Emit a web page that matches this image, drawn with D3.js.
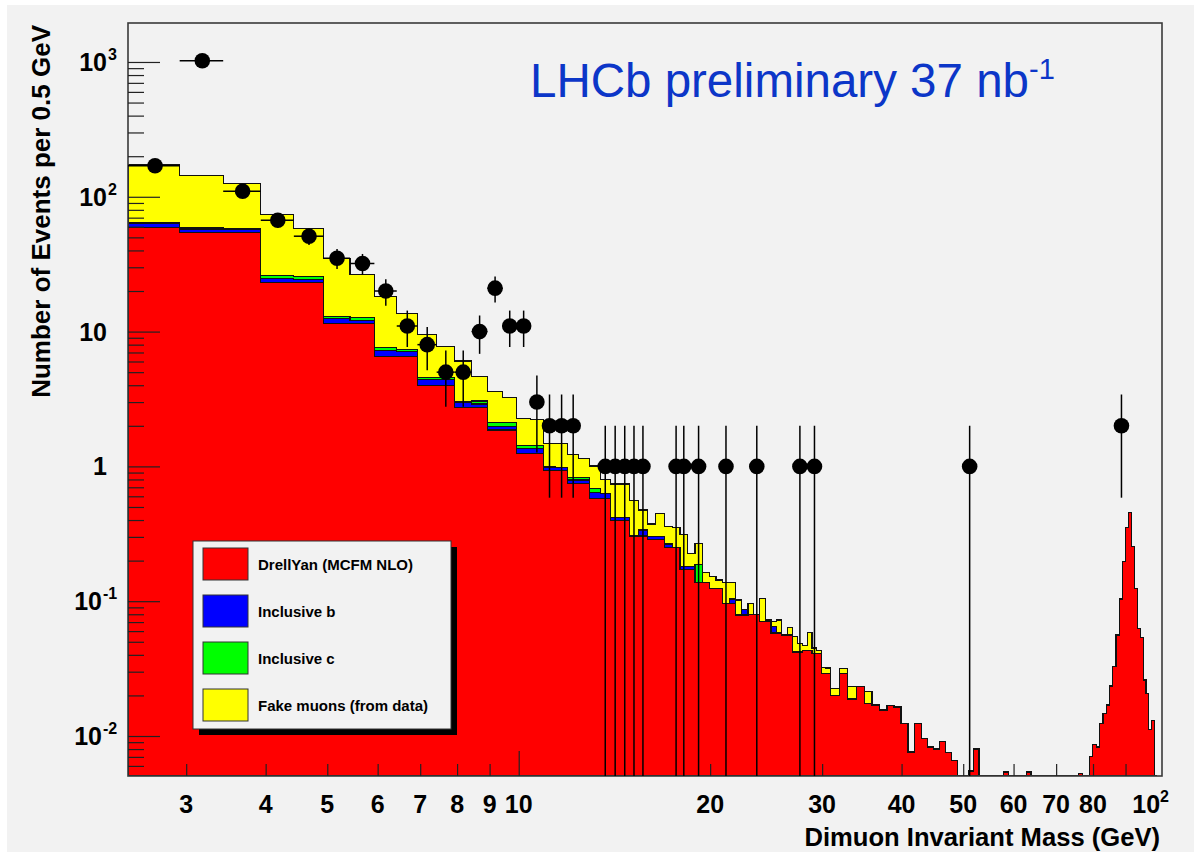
<!DOCTYPE html>
<html>
<head>
<meta charset="utf-8">
<script src="https://cdn.jsdelivr.net/npm/d3@7/dist/d3.min.js"></script>
<style>
  body { margin: 0; background: #f2f2f2; }
  svg { display: block; }
  text { font-family: "Liberation Sans", Arial, Helvetica, sans-serif; }
</style>
</head>
<body>
<svg id="chart" width="1194" height="852"></svg>
<script>
// 0.5 GeV bins from 2.43 to 30.93, then 1 GeV bins up to 100.93
const binEdges = [
  ...d3.range(58).map(i => +(2.43 + 0.5 * i).toFixed(2)),
  ...d3.range(1, 71).map(i => +(30.93 + i).toFixed(2))
];

// stacked MC (events per bin); missing entries = empty bins
const drellYan = [
  59.2, 54.5, 54.5, 23.0, 23.0, 11.5, 11.5, 6.5, 6.5, 4.0, 4.0, 2.72, 2.72, 1.86, 1.86,
  1.25, 1.25, 0.93, 0.93, 0.75, 0.75, 0.58, 0.58, 0.396, 0.396, 0.305, 0.305, 0.288, 0.288,
  0.251, 0.251, 0.173, 0.173, 0.137, 0.137, 0.1246, 0.1246, 0.0965, 0.0965, 0.079, 0.079,
  0.080, 0.080, 0.0705, 0.0705, 0.058, 0.058, 0.0561, 0.0561, 0.042, 0.042, 0.043, 0.043,
  0.041, 0.041, 0.029, 0.029,
  // 1 GeV bins from 30.93
  0.0201, 0.029, 0.0188, 0.0233, 0.0175, 0.0170, 0.0156, 0.0169, 0.0164, 0.0123, 0.0076,
  0.0124, 0.0096, 0.0083, 0.0080, 0.0091, 0.0075, 0.0066, 0, 0, 0.0055, 0.0080,
  0, 0, 0, 0, 0, 0.0054, 0, 0, 0, 0.0051, 0.0054,
  0, 0, 0, 0, 0, 0, 0, 0, 0, 0, 0, 0, 0.0053, 0, 0,
  0.0070, 0.0086, 0.0083, 0.0123, 0.0147, 0.0170, 0.0235, 0.0327, 0.0561, 0.1038, 0.198,
  0.353, 0.453, 0.254, 0.1246, 0.0630, 0.0540, 0.0260, 0.0207, 0.0111, 0.0131, 0
];
const inclB = [
  4.0, 3.0, 2.3, 1.9, 1.5, 1.0, 0.6, 0.7, 0.6, 0.43, 0.43, 0.24, 0.18, 0.13, 0.13, 0.10,
  0.10, 0.055, 0.055, 0.042, 0.042, 0.06, 0.05, 0.023, 0.023, 0, 0.032, 0.012, 0.012, 0.015,
  0, 0.008, 0.008, 0, 0, 0, 0, 0, 0.0075, 0, 0.0072, 0, 0, 0, 0, 0.007
];
const inclC = [
  1.3, 1.2, 1.3, 1.3, 1.0, 0.5, 0.7, 0.4, 0.3, 0.15, 0.12, 0.06, 0.16, 0.13, 0.13, 0.07,
  0.07, 0.01, 0, 0.04, 0.04, 0.05, 0, 0, 0, 0, 0, 0, 0, 0, 0, 0, 0, 0.049
];
const fakeMu = [
  107.5, 86, 67, 48, 33, 22, 13.8, 10.6, 6.3, 4.97, 3.18, 3.03, 1.57, 1.46, 1.14, 0.85,
  0.81, 0.49, 0.50, 0.40, 0.316, 0.317, 0.173, 0.32, 0.32, 0.252, 0.138, 0.074, 0.149,
  0.091, 0.10, 0.1325, 0.0456, 0.083, 0.0267, 0.0274, 0.019, 0.0407, 0.033, 0.023, 0,
  0.0165, 0, 0.0345, 0.002, 0.0055, 0.0145, 0, 0.008, 0.0126, 0.0067, 0.004, 0.0154,
  0.004, 0.002, 0.0033, 0.003,
  0.0024, 0.0027, 0.0045, 0, 0.0039
];

// data (bin centres, counts)
const dataMass = [2.68, 3.18, 3.68, 4.18, 4.68, 5.18, 5.68, 6.18, 6.68, 7.18, 7.68, 8.18,
  8.68, 9.18, 9.68, 10.18, 10.68, 11.18, 11.68, 12.18, 13.68, 14.18, 14.68, 15.18, 15.68,
  17.68, 18.18, 19.18, 21.18, 23.68, 27.68, 29.18, 51.18, 88.68];
const dataCount = [170, 1020, 110, 67, 51, 35, 32, 20, 11, 8, 5, 5, 10, 21, 11, 11, 3, 2,
  2, 2, 1, 1, 1, 1, 1, 1, 1, 1, 1, 1, 1, 1, 1, 2];

const legendLabels = ["DrellYan (MCFM NLO)", "Inclusive b", "Inclusive c", "Fake muons (from data)"];
const layerColors = ["#ff0000", "#0000ff", "#00ff00", "#ffff00"];

const xTickLabels = [3, 4, 5, 6, 7, 8, 9, 10, 20, 30, 40, 50, 60, 70, 80];
const xMinorTicks = [3, 4, 5, 6, 7, 8, 9, 20, 30, 40, 50, 60, 70, 80, 90];
const yDecades = [0.01, 0.1, 1, 10, 100, 1000];
const yLabelExp = ["-2", "-1", "", "", "2", "3"];

const X0 = 128, X1 = 1162, Y0 = 23, Y1 = 776;
const svg = d3.select("#chart");

svg.append("rect").attr("width", 1194).attr("height", 852).attr("fill", "#f2f2f2");
svg.append("rect").attr("width", 7).attr("height", 852).attr("fill", "#ffffff");
svg.append("rect").attr("width", 1194).attr("height", 5).attr("fill", "#ffffff");

const x = d3.scaleLog().domain([2.43, 102.7]).range([X0, X1]);
const y = d3.scaleLog().domain([0.00505, 1946]).range([Y1, Y0]);
const yc = v => (v > y.domain()[0] ? y(v) : Y1);

svg.append("clipPath").attr("id", "frame")
  .append("rect").attr("x", X0).attr("y", Y0).attr("width", X1 - X0).attr("height", Y1 - Y0);

// cumulative stack
const nBins = binEdges.length - 1;
const stacks = [];
let run = d3.range(nBins).map(() => 0);
[drellYan, inclB, inclC, fakeMu].forEach(arr => {
  run = run.map((r, i) => r + (arr[i] || 0));
  stacks.push(run);
});

function stepPath(vals) {
  const p = d3.path();
  p.moveTo(x(binEdges[0]), Y1);
  vals.forEach((v, i) => {
    p.lineTo(x(binEdges[i]), yc(v));
    p.lineTo(x(binEdges[i + 1]), yc(v));
  });
  p.lineTo(x(binEdges[nBins]), Y1);
  p.closePath();
  return p.toString();
}

const plot = svg.append("g").attr("clip-path", "url(#frame)");
for (let k = stacks.length - 1; k >= 0; k--) {
  plot.append("path")
    .attr("d", stepPath(stacks[k]))
    .attr("fill", layerColors[k])
    .attr("stroke", "#111")
    .attr("stroke-width", 1.2)
    .attr("shape-rendering", "crispEdges");
}

// frame
svg.append("rect")
  .attr("x", X0).attr("y", Y0).attr("width", X1 - X0).attr("height", Y1 - Y0)
  .attr("fill", "none").attr("stroke", "#3a3a3a").attr("stroke-width", 1.6);

// x ticks
const xAxisMinor = d3.axisBottom(x).tickValues(xMinorTicks).tickSize(-12).tickFormat("");
const xAxisMajor = d3.axisBottom(x).tickValues([10]).tickSize(-25).tickFormat("");
[xAxisMinor, xAxisMajor].forEach(ax => {
  const g = svg.append("g").attr("transform", `translate(0,${Y1})`).call(ax);
  g.select(".domain").remove();
  g.selectAll("line").attr("stroke", "#222").attr("stroke-width", 1.2);
});

// y ticks
const yMinor = [];
d3.range(-3, 4).forEach(e => d3.range(2, 10).forEach(m => {
  const v = m * Math.pow(10, e);
  if (v > y.domain()[0] && v < y.domain()[1]) yMinor.push(v);
}));
const yAxisMinor = d3.axisLeft(y).tickValues(yMinor).tickSize(-16).tickFormat("");
const yAxisMajor = d3.axisLeft(y).tickValues(yDecades).tickSize(-32).tickFormat("");
[yAxisMinor, yAxisMajor].forEach(ax => {
  const g = svg.append("g").attr("transform", `translate(${X0},0)`).call(ax);
  g.select(".domain").remove();
  g.selectAll("line").attr("stroke", "#222").attr("stroke-width", 1.2);
});

// x tick labels
svg.append("g").selectAll("text").data(xTickLabels).join("text")
  .attr("x", d => x(d)).attr("y", 813)
  .attr("text-anchor", "middle")
  .attr("font-size", 25).attr("font-weight", "bold").attr("fill", "#000")
  .text(d => d);
const lab100 = svg.append("text")
  .attr("x", x(100) - 4).attr("y", 813).attr("text-anchor", "middle")
  .attr("font-size", 25).attr("font-weight", "bold");
lab100.append("tspan").text("10");
lab100.append("tspan").attr("dy", -11).attr("font-size", 16).text("2");

// y tick labels
yDecades.forEach((v, i) => {
  const exp = yLabelExp[i];
  const base = exp === "" ? String(v) : "10";
  const right = exp.startsWith("-") ? 102 : 107;
  svg.append("text")
    .attr("x", right).attr("y", y(v) + 9)
    .attr("text-anchor", "end")
    .attr("font-size", 25).attr("font-weight", "bold")
    .text(base);
  if (exp) {
    svg.append("text")
      .attr("x", right + 1).attr("y", y(v) - 2)
      .attr("font-size", 16).attr("font-weight", "bold")
      .text(exp);
  }
});

// axis titles
svg.append("text")
  .attr("transform", `translate(50,${Y0 + 2}) rotate(-90)`)
  .attr("text-anchor", "end")
  .attr("font-size", 26).attr("font-weight", "bold")
  .text("Number of Events per 0.5 GeV");
svg.append("text")
  .attr("x", 1160).attr("y", 846)
  .attr("text-anchor", "end")
  .attr("font-size", 25.6).attr("font-weight", "bold")
  .text("Dimuon Invariant Mass (GeV)");

// data points
const pts = svg.append("g").attr("clip-path", "url(#frame)");
dataMass.forEach((m, i) => {
  const n = dataCount[i], e = Math.sqrt(n);
  pts.append("line")
    .attr("x1", x(m)).attr("x2", x(m))
    .attr("y1", yc(n - e)).attr("y2", y(n + e))
    .attr("stroke", "#000").attr("stroke-width", 1.5);
  pts.append("line")
    .attr("x1", x(m - 0.25)).attr("x2", x(m + 0.25))
    .attr("y1", y(n)).attr("y2", y(n))
    .attr("stroke", "#000").attr("stroke-width", 1.5);
  pts.append("circle")
    .attr("cx", x(m)).attr("cy", y(n)).attr("r", 7.8)
    .attr("fill", "#000");
});

// legend
const lg = svg.append("g");
lg.append("rect").attr("x", 199).attr("y", 547).attr("width", 258).attr("height", 188).attr("fill", "#000");
lg.append("rect").attr("x", 193).attr("y", 541).attr("width", 258).attr("height", 188)
  .attr("fill", "#f2f2f2").attr("stroke", "#333").attr("stroke-width", 1);
legendLabels.forEach((t, i) => {
  const top = 548 + i * 47;
  lg.append("rect").attr("x", 203).attr("y", top).attr("width", 45).attr("height", 32)
    .attr("fill", layerColors[i]).attr("stroke", "#333").attr("stroke-width", 1);
  lg.append("text").attr("x", 258).attr("y", top + 21.5)
    .attr("font-size", 15).attr("font-weight", "bold").text(t);
});

// LHCb label
const lhcb = svg.append("text").attr("x", 530).attr("y", 97)
  .attr("font-size", 47.5).attr("fill", "#0c36c8");
lhcb.append("tspan").text("LHCb preliminary 37 nb");
lhcb.append("tspan").attr("dy", -18).attr("font-size", 29).text("-1");
</script>
</body>
</html>
